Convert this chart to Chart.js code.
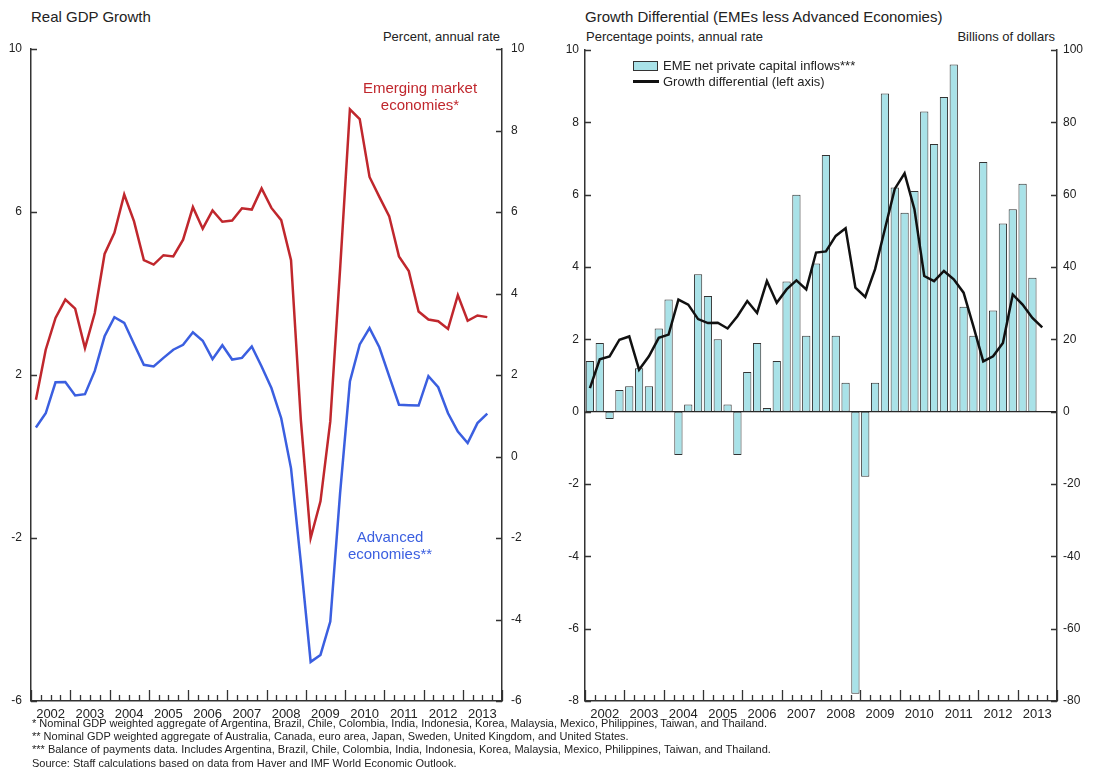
<!DOCTYPE html>
<html>
<head>
<meta charset="utf-8">
<script src="https://cdn.jsdelivr.net/npm/chart.js@4.4.1/dist/chart.umd.min.js"></script>
<style>
    body { margin: 0; background: #fff; font-family: 'Liberation Sans', Arial, sans-serif; color: #222; }
    #page { position: relative; width: 1095px; height: 767px; overflow: hidden; }
    .abs { position: absolute; white-space: nowrap; }
    .title { font-size: 15px; }
    .unit { font-size: 13px; }
    .note { font-size: 15px; line-height: 17px; text-align: center; }
    .foot { font-size: 11px; line-height: 13.2px; }
</style>
</head>
<body>
<div id="page">
    <div class="abs title" style="left:31px; top:8px;">Real GDP Growth</div>
    <div class="abs unit" style="right:595px; top:29px;">Percent, annual rate</div>

    <div class="abs title" style="left:585px; top:8px;">Growth Differential (EMEs less Advanced Economies)</div>
    <div class="abs unit" style="left:586px; top:29px;">Percentage points, annual rate</div>
    <div class="abs unit" style="right:40px; top:29px;">Billions of dollars</div>

    <div class="abs" style="left:0; top:0;"><canvas id="gdpChart" width="548" height="725"></canvas></div>
    <div class="abs" style="left:548px; top:0;"><canvas id="diffChart" width="547" height="725"></canvas></div>

    <div class="abs note" style="left:340px; top:79px; width:160px; color:#c0272d;">Emerging market<br>economies*</div>
    <div class="abs note" style="left:310px; top:528px; width:160px; color:#3b5fe0;">Advanced<br>economies**</div>

    <!-- legend, right panel -->
    <div class="abs" style="left:633px; top:61px; width:23px; height:8px; border:1.5px solid #333; background:#a9e2e8;"></div>
    <div class="abs unit" style="left:663px; top:58px;">EME net private capital inflows***</div>
    <div class="abs" style="left:633px; top:80px; width:26px; height:3px; background:#111;"></div>
    <div class="abs unit" style="left:663px; top:74px;">Growth differential (left axis)</div>

    <div class="abs foot" style="left:32px; top:717px;">
        * Nominal GDP weighted aggregate of Argentina, Brazil, Chile, Colombia, India, Indonesia, Korea, Malaysia, Mexico, Philippines, Taiwan, and Thailand.<br>
        ** Nominal GDP weighted aggregate of Australia, Canada, euro area, Japan, Sweden, United Kingdom, and United States.<br>
        *** Balance of payments data. Includes Argentina, Brazil, Chile, Colombia, India, Indonesia, Korea, Malaysia, Mexico, Philippines, Taiwan, and Thailand.<br>
        Source: Staff calculations based on data from Haver and IMF World Economic Outlook.
    </div>
</div>

<script>
// quarterly data, 2002Q1 onwards
const years = [2002, 2003, 2004, 2005, 2006, 2007, 2008, 2009, 2010, 2011, 2012, 2013];
const quarters = years.flatMap(y => ['Q1', 'Q2', 'Q3', 'Q4'].map(q => y + q));

// real GDP growth, percent annual rate (through 2013Q3)
const emeGrowth = [
    1.39, 2.62, 3.40, 3.85, 3.63, 2.66, 3.52, 4.97, 5.49, 6.43, 5.77, 4.82,
    4.71, 4.94, 4.91, 5.32, 6.12, 5.59, 6.04, 5.76, 5.79, 6.09, 6.06, 6.58,
    6.10, 5.80, 4.82, 0.90, -2.00, -1.10, 0.86, 4.60, 8.52, 8.28, 6.86, 6.37,
    5.90, 4.91, 4.55, 3.56, 3.36, 3.32, 3.13, 3.96, 3.33, 3.46, 3.42
];
const advGrowth = [
    0.71, 1.06, 1.82, 1.83, 1.50, 1.53, 2.10, 2.95, 3.42, 3.28, 2.76, 2.25,
    2.21, 2.42, 2.62, 2.74, 3.05, 2.84, 2.39, 2.73, 2.38, 2.42, 2.70, 2.21,
    1.68, 0.94, -0.29, -2.60, -5.04, -4.87, -4.05, -0.90, 1.84, 2.75, 3.15, 2.68,
    1.97, 1.27, 1.26, 1.25, 1.97, 1.70, 1.06, 0.61, 0.33, 0.82, 1.05
];

// growth differential, percentage points (left axis)
const growthDiff = [
    0.65, 1.45, 1.53, 1.99, 2.08, 1.16, 1.53, 2.04, 2.13, 3.10, 2.96, 2.56,
    2.45, 2.46, 2.30, 2.64, 3.06, 2.73, 3.61, 3.01, 3.38, 3.63, 3.38, 4.40,
    4.43, 4.86, 5.07, 3.43, 3.17, 3.94, 5.05, 6.16, 6.59, 5.60, 3.75, 3.61,
    3.89, 3.66, 3.29, 2.36, 1.39, 1.53, 1.90, 3.24, 2.96, 2.59, 2.33
];
// EME net private capital inflows, billions of dollars (through 2013Q2)
const capInflows = [
    14, 19, -2, 6, 7, 12, 7, 23, 31, -12, 2, 38,
    32, 20, 2, -12, 11, 19, 1, 14, 36, 60, 21, 41,
    71, 21, 8, -78, -18, 8, 88, 62, 55, 61, 83, 74,
    87, 96, 29, 21, 69, 28, 52, 56, 63, 37
];

const COLORS = {
    eme: '#c0272d',
    adv: '#3b5fe0',
    diff: '#111111',
    bar: '#a9e2e8',
    axis: '#333333',
    text: '#222222',
};

Chart.defaults.font.family = "'Liberation Sans', Arial, sans-serif";
Chart.defaults.color = COLORS.text;
Chart.defaults.animation = false;

// tick marks pointing into the plot, like the original
const innerTicks = {
    id: 'innerTicks',
    afterDatasetsDraw(chart) {
        const { ctx, chartArea: a, scales } = chart;
        ctx.save();
        ctx.strokeStyle = COLORS.axis;
        ctx.lineWidth = 1.3;
        ctx.beginPath();
        scales.y.ticks.forEach(t => {
            const p = Math.round(scales.y.getPixelForValue(t.value)) + 0.5;
            ctx.moveTo(a.left, p);
            ctx.lineTo(a.left + 6, p);
        });
        scales.y2.ticks.forEach(t => {
            const p = Math.round(scales.y2.getPixelForValue(t.value)) + 0.5;
            ctx.moveTo(a.right - 6, p);
            ctx.lineTo(a.right, p);
        });
        const n = scales.x.ticks.length;
        for (let i = 0; i <= n; i++) {
            const p = Math.round(scales.x.getPixelForValue(i - 0.5)) + 0.5;
            ctx.moveTo(p, a.bottom);
            ctx.lineTo(p, a.bottom - (i % 4 === 0 ? 11 : 6));
        }
        ctx.stroke();
        ctx.restore();
    }
};

function xAxis() {
    return {
        type: 'category',
        offset: true,
        grid: { display: false },
        border: { display: true, color: COLORS.axis, width: 1.5 },
        ticks: {
            autoSkip: false,
            maxRotation: 0,
            minRotation: 0,
            padding: -2,
            labelOffset: 4.9,
            font: { size: 13 },
            callback: (v, i) => i % 4 === 1 ? quarters[i].slice(0, 4) : ''
        },
        afterFit: s => { s.height = 24; }
    };
}

function yAxis(position, min, max, step, width, pad, zeroLine) {
    return {
        position,
        min,
        max,
        grid: {
            display: zeroLine,
            drawTicks: false,
            color: c => c.tick.value === 0 ? '#222' : 'rgba(0,0,0,0)',
            lineWidth: 1.2
        },
        border: { display: true, color: COLORS.axis, width: 1.5 },
        ticks: { stepSize: step, padding: pad, font: { size: 12 } },
        afterFit: s => { s.width = width; }
    };
}

// ==========================================
// Left panel — Real GDP growth
// ==========================================
new Chart(document.getElementById('gdpChart'), {
    type: 'line',
    data: {
        labels: quarters,
        datasets: [
            {
                label: 'Emerging market economies',
                data: emeGrowth,
                borderColor: COLORS.eme,
                borderWidth: 2.5,
                pointRadius: 0,
                tension: 0,
                yAxisID: 'y'
            },
            {
                label: 'Advanced economies',
                data: advGrowth,
                borderColor: COLORS.adv,
                borderWidth: 2.5,
                pointRadius: 0,
                tension: 0,
                yAxisID: 'y'
            }
        ]
    },
    options: {
        responsive: false,
        layout: { padding: { top: 49, left: 0, right: 0, bottom: 0 } },
        plugins: { legend: { display: false }, tooltip: { enabled: false } },
        scales: {
            x: xAxis(),
            y: yAxis('left', -6, 10, 4, 31, 9, true),
            y2: yAxis('right', -6, 10, 2, 46, 9, false)
        }
    },
    plugins: [innerTicks]
});

// ==========================================
// Right panel — Growth differential and capital inflows
// ==========================================
new Chart(document.getElementById('diffChart'), {
    type: 'bar',
    data: {
        labels: quarters,
        datasets: [
            {
                type: 'line',
                label: 'Growth differential (left axis)',
                data: growthDiff,
                borderColor: COLORS.diff,
                borderWidth: 2.5,
                pointRadius: 0,
                tension: 0,
                yAxisID: 'y',
                order: 0
            },
            {
                type: 'bar',
                label: 'EME net private capital inflows***',
                data: capInflows,
                backgroundColor: COLORS.bar,
                borderColor: COLORS.axis,
                borderWidth: 1,
                borderSkipped: false,
                barPercentage: 0.84,
                categoryPercentage: 1,
                yAxisID: 'y2',
                order: 1
            }
        ]
    },
    options: {
        responsive: false,
        layout: { padding: { top: 50, left: 0, right: 0, bottom: 0 } },
        plugins: { legend: { display: false }, tooltip: { enabled: false } },
        scales: {
            x: xAxis(),
            y: yAxis('left', -8, 10, 2, 37, 6, true),
            y2: yAxis('right', -80, 100, 20, 38, 6, false)
        }
    },
    plugins: [innerTicks]
});
</script>
</body>
</html>
